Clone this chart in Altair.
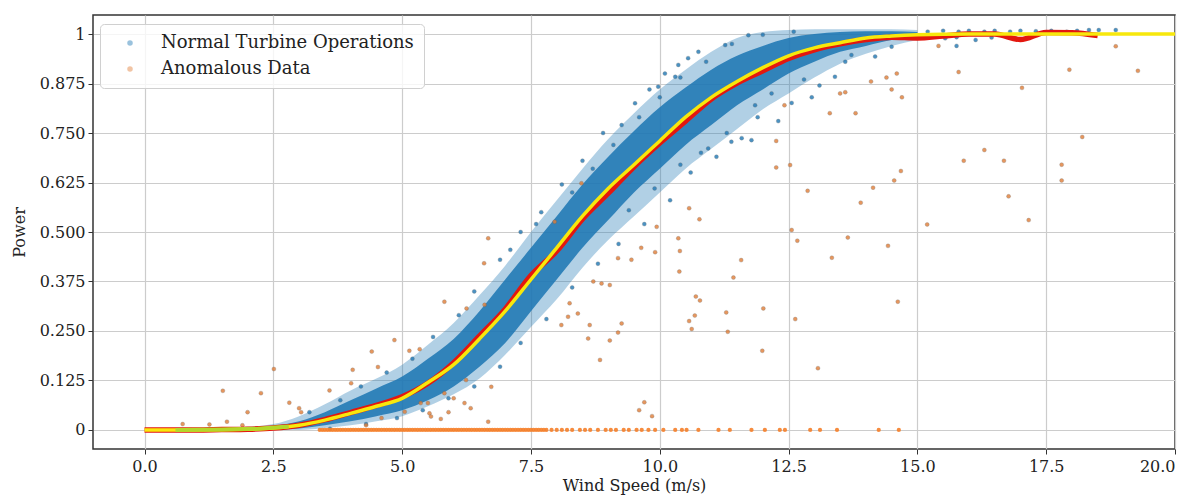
import altair as alt
import pandas as pd

# ---------------- data ----------------
# dense cloud of normal operations: outer and core envelope
band_v = [1.5, 2.0, 2.5, 3.0, 3.5, 4.0, 4.5, 5.0, 5.5, 6.0, 6.5, 7.0, 7.5, 8.0, 8.5,
          9.0, 9.5, 10.0, 10.5, 11.0, 11.5, 12.0, 12.5, 13.0, 13.5, 14.0, 14.5, 15.0]
outer_lo = [0.0, 0.0, 0.0, 0.0, 0.005, 0.012, 0.022, 0.035, 0.06, 0.09, 0.13, 0.19, 0.26, 0.33, 0.41,
            0.48, 0.54, 0.60, 0.66, 0.71, 0.76, 0.81, 0.85, 0.89, 0.925, 0.95, 0.97, 0.985]
outer_hi = [0.004, 0.008, 0.015, 0.035, 0.065, 0.10, 0.13, 0.165, 0.215, 0.27, 0.34, 0.415, 0.50, 0.58, 0.66,
            0.735, 0.80, 0.86, 0.91, 0.955, 0.99, 1.005, 1.01, 1.012, 1.012, 1.012, 1.012, 1.01]
core_lo = [0.0, 0.0, 0.001, 0.004, 0.012, 0.022, 0.035, 0.05, 0.075, 0.11, 0.16, 0.22, 0.30, 0.38, 0.46,
           0.53, 0.60, 0.66, 0.72, 0.77, 0.82, 0.86, 0.90, 0.93, 0.955, 0.97, 0.985, 0.99]
core_hi = [0.002, 0.004, 0.01, 0.022, 0.045, 0.075, 0.105, 0.135, 0.18, 0.23, 0.30, 0.38, 0.46, 0.54, 0.62,
           0.69, 0.755, 0.815, 0.865, 0.91, 0.945, 0.97, 0.99, 1.0, 1.005, 1.007, 1.007, 1.005]

# scattered normal points at the fringes of the cloud
normal_v = [3.2, 3.8, 4.2, 4.7, 5.2, 5.6, 6.1, 6.4, 6.9, 7.3, 7.7, 8.1, 8.5, 8.9, 9.26, 9.52, 9.97, 10.3,
            10.36, 10.55, 10.75, 11.27, 11.72, 9.8, 10.1,
            3.6, 4.3, 4.9, 5.4, 5.9, 6.4, 6.9, 7.3, 7.8, 8.3, 8.8, 9.2, 9.7, 10.2, 10.94, 11.39, 11.59, 11.78,
            11.85, 12.17, 12.56, 12.95, 13.4, 13.72, 14.18, 14.5, 10.6, 11.1, 12.3, 13.1,
            15.2, 15.54, 15.76, 15.5, 15.8, 16.0, 16.13, 16.3, 16.44, 16.5, 16.8, 17.0, 17.3, 17.6, 17.9,
            18.1, 18.33, 18.52, 18.85, 15.76,
            7.1, 7.6, 8.3, 8.7, 9.1, 9.6, 10.0, 10.4, 10.9, 11.4, 12.0, 12.6,
            9.4, 9.9, 10.4, 10.8, 11.3, 11.9, 12.8, 13.6]
normal_p = [0.045, 0.075, 0.11, 0.145, 0.18, 0.235, 0.29, 0.35, 0.43, 0.50, 0.55, 0.62, 0.68, 0.75, 0.77,
            0.825, 0.867, 0.892, 0.922, 0.939, 0.955, 0.972, 0.997, 0.86, 0.90,
            0.003, 0.015, 0.03, 0.05, 0.08, 0.11, 0.16, 0.22, 0.28, 0.36, 0.42, 0.47, 0.52, 0.58, 0.711, 0.728,
            0.737, 0.732, 0.82, 0.85, 0.826, 0.84, 0.892, 0.947, 0.943, 0.968, 0.65, 0.69, 0.78, 0.87,
            1.006, 0.989, 0.992, 1.008, 1.006, 1.008, 0.985, 1.006, 0.991, 1.008, 1.006, 1.008, 1.007, 1.008,
            1.006, 1.008, 1.01, 1.01, 1.01, 0.97,
            0.455, 0.52, 0.6, 0.66, 0.72, 0.79, 0.84, 0.89, 0.93, 0.975, 0.998, 1.006,
            0.555, 0.61, 0.67, 0.70, 0.75, 0.79, 0.885, 0.93]

# anomalous data: scattered points
anom_v = [0.74, 1.26, 1.52, 1.6, 2.0, 2.26, 2.51, 2.81, 3.0, 3.04, 3.59, 4.01, 4.04, 4.41, 4.53, 4.85, 5.14,
          5.34, 5.36, 5.5, 5.53, 5.56, 5.75, 5.82, 5.82, 6.21, 6.24, 6.25, 6.33, 6.59, 6.6, 6.67, 6.67, 6.73,
          5.05, 1.9, 4.3, 4.6, 5.9, 6.0,
          7.96, 8.09, 8.22, 8.25, 8.41, 8.48, 8.61, 8.64, 8.71, 8.87, 9.03, 9.03, 9.19, 9.19, 9.26, 9.45, 9.6,
          9.7, 9.85, 8.84, 9.64,
          9.91, 9.94, 10.36, 10.39, 10.38, 10.57, 10.77, 10.57, 10.62, 10.68, 10.7, 10.78, 11.29, 11.32, 11.43,
          11.58, 11.99, 12.01, 12.26, 12.53, 12.56, 12.63, 12.67, 12.87, 13.07, 13.34, 13.65, 13.9, 14.14,
          14.43, 14.62, 14.68, 15.19,
          12.42, 12.26, 13.3, 13.5, 13.6, 13.8, 14.1, 14.4, 14.5, 14.6, 14.7, 14.55, 15.8, 15.9, 16.3, 16.68,
          16.77, 17.03, 17.16, 17.95, 17.8, 17.8, 18.2, 19.28, 15.41, 18.85]
anom_p = [0.015, 0.014, 0.099, 0.021, 0.045, 0.093, 0.154, 0.069, 0.055, 0.045, 0.10, 0.118, 0.152, 0.198,
          0.159, 0.227, 0.20, 0.204, 0.068, 0.068, 0.042, 0.034, 0.028, 0.093, 0.324, 0.068, 0.126, 0.307,
          0.055, 0.421, 0.316, 0.484, 0.021, 0.109, 0.046, 0.012, 0.012, 0.03, 0.045, 0.08,
          0.526, 0.265, 0.286, 0.32, 0.294, 0.623, 0.231, 0.265, 0.375, 0.37, 0.366, 0.226, 0.434, 0.246,
          0.269, 0.43, 0.05, 0.07, 0.035, 0.177, 0.46,
          0.449, 0.513, 0.484, 0.452, 0.40, 0.56, 0.532, 0.275, 0.255, 0.289, 0.337, 0.327, 0.297, 0.248,
          0.385, 0.429, 0.20, 0.307, 0.663, 0.669, 0.505, 0.28, 0.478, 0.604, 0.156, 0.435, 0.486, 0.574,
          0.612, 0.465, 0.324, 0.654, 0.519,
          0.82, 0.73, 0.80, 0.85, 0.853, 0.80, 0.88, 0.89, 0.86, 0.90, 0.84, 0.63, 0.904, 0.68, 0.707, 0.68,
          0.59, 0.864, 0.53, 0.91, 0.67, 0.63, 0.74, 0.907, 0.97, 0.969]

# anomalous data: zero-power records
zero_v = [3.40, 3.45, 3.50, 3.55, 3.60, 3.65, 3.70, 3.75, 3.80, 3.85, 3.90, 3.95, 4.00, 4.05, 4.10, 4.15,
          4.20, 4.25, 4.30, 4.35, 4.40, 4.45, 4.50, 4.55, 4.60, 4.65, 4.70, 4.75, 4.80, 4.85, 4.90, 4.95,
          5.00, 5.05, 5.10, 5.15, 5.20, 5.25, 5.30, 5.35, 5.40, 5.45, 5.50, 5.55, 5.60, 5.65, 5.70, 5.75,
          5.80, 5.85, 5.90, 5.95, 6.00, 6.05, 6.10, 6.15, 6.20, 6.25, 6.30, 6.35, 6.40, 6.45, 6.50, 6.55,
          6.60, 6.65, 6.70, 6.75, 6.80, 6.85, 6.90, 6.95, 7.00, 7.05, 7.10, 7.15, 7.20, 7.25, 7.30, 7.35,
          7.40, 7.45, 7.50, 7.55, 7.60, 7.65, 7.70, 7.75, 7.80, 7.90, 8.00, 8.10, 8.20, 8.30, 8.45, 8.55,
          8.65, 8.80, 8.95, 9.05, 9.15, 9.30, 9.40, 9.55, 9.65,
          9.78, 9.91, 10.07, 10.3, 10.43, 10.52, 10.75, 11.14, 11.36, 11.78, 12.04, 12.33, 12.43,
          12.92, 13.11, 13.44, 14.25, 14.64]

# power curves
red_v = [0.0, 0.5, 1.0, 1.5, 2.0, 2.5, 3.0, 3.5, 4.0, 4.5, 5.0, 5.5, 6.0, 6.5, 7.0, 7.5, 8.0, 8.5, 9.0,
         9.5, 10.0, 10.5, 11.0, 11.5, 12.0, 12.5, 13.0, 13.5, 14.0, 14.5, 15.0, 15.5, 16.0, 16.5, 17.0,
         17.5, 18.0, 18.5]
red_p = [0.0, 0.0, 0.0, 0.001, 0.002, 0.005, 0.012, 0.026, 0.044, 0.062, 0.084, 0.118, 0.17, 0.237, 0.305,
         0.39, 0.452, 0.533, 0.598, 0.665, 0.725, 0.78, 0.836, 0.876, 0.907, 0.938, 0.96, 0.975, 0.986, 0.992,
         0.99, 0.995, 1.0, 1.0, 0.986, 1.004, 1.003, 0.996]
fit_v = [0.0, 1.0, 2.0, 2.5, 3.0, 3.5, 4.0, 4.5, 5.0, 5.5, 6.0, 6.5, 7.0, 7.5, 8.0, 8.5, 9.0, 9.5, 10.0,
         10.5, 11.0, 11.5, 12.0, 12.5, 13.0, 13.5, 14.0, 14.5, 15.0, 16.0, 20.0]
fit_p = [0.0, 0.0, 0.002, 0.005, 0.012, 0.025, 0.042, 0.06, 0.08, 0.12, 0.165, 0.23, 0.30, 0.38, 0.46, 0.54,
         0.61, 0.67, 0.73, 0.79, 0.84, 0.88, 0.915, 0.945, 0.965, 0.978, 0.99, 0.995, 0.998, 1.0, 1.0]
green_v = [0.6, 1.5, 2.2, 2.8]
green_p = [0.0, 0.001, 0.003, 0.009]

# ---------------- tables ----------------
band = pd.DataFrame({"v": band_v, "olo": outer_lo, "ohi": outer_hi, "clo": core_lo, "chi": core_hi})
NORMAL = "Normal Turbine Operations"
ANOM = "Anomalous Data"
pts = pd.concat([
    pd.DataFrame({"v": normal_v, "p": normal_p, "series": NORMAL}),
    pd.DataFrame({"v": anom_v, "p": anom_p, "series": ANOM}),
], ignore_index=True)
zeros = pd.DataFrame({"v": zero_v, "p": [0.0] * len(zero_v)})
red = pd.DataFrame({"v": red_v, "p": red_p})
fit = pd.DataFrame({"v": fit_v, "p": fit_p})
green = pd.DataFrame({"v": green_v, "p": green_p})

xs = alt.Scale(domain=[-1.0, 20.0], nice=False, zero=False)
ys = alt.Scale(domain=[-0.048, 1.048], nice=False, zero=False)

xaxis = alt.Axis(title="Wind Speed (m/s)", values=[0, 2.5, 5, 7.5, 10, 12.5, 15, 17.5, 20],
                 format=".1f", labelPadding=4, titlePadding=3)
yaxis = alt.Axis(title="Power", values=[0, 0.125, 0.25, 0.375, 0.5, 0.625, 0.75, 0.875, 1],
                 labelExpr="datum.value == 0 ? '0' : (datum.value == 1 ? '1' : format(datum.value, '.3f'))",
                 labelPadding=3, titlePadding=12)

X = alt.X("v:Q", scale=xs, axis=xaxis)
Y = alt.Y("p:Q", scale=ys, axis=yaxis)

outer = alt.Chart(band).mark_area(color="#1f77b4", opacity=0.35, interpolate="monotone").encode(
    x=X, y=alt.Y("olo:Q", scale=ys, axis=yaxis), y2="ohi:Q")
core = alt.Chart(band).mark_area(color="#1f77b4", opacity=0.88, interpolate="monotone").encode(
    x=X, y=alt.Y("clo:Q", scale=ys, axis=yaxis), y2="chi:Q")

points = alt.Chart(pts).mark_circle(size=16, opacity=0.8, stroke="#5a5a5a", strokeWidth=0.6,
                                    strokeOpacity=0.5).encode(
    x=X, y=Y,
    color=alt.Color("series:N",
                    scale=alt.Scale(domain=[NORMAL, ANOM], range=["#1f77b4", "#e07d36"]),
                    legend=alt.Legend(title=None, orient="none", legendX=7, legendY=9,
                                      symbolType="circle", symbolSize=30, symbolOpacity=0.45,
                                      symbolStrokeWidth=0,
                                      labelFont="DejaVu Serif", labelFontSize=18, labelColor="#222",
                                      labelLimit=0,
                                      padding=10, symbolOffset=11, labelOffset=22, rowPadding=8,
                                      strokeColor="#d0d0d0", fillColor="rgba(255,255,255,0.8)",
                                      cornerRadius=4)),
)
zero_pts = alt.Chart(zeros).mark_circle(size=18, opacity=0.9, color="#f5802a").encode(x=X, y=Y)

red_line = alt.Chart(red).mark_line(color="#e3170f", strokeWidth=5.5, interpolate="monotone").encode(x=X, y=Y)
fit_line = alt.Chart(fit).mark_line(color="#f7e80c", strokeWidth=3.5, interpolate="monotone").encode(x=X, y=Y)
green_line = alt.Chart(green).mark_line(color="#b2d82a", strokeWidth=4).encode(x=X, y=Y)

chart = alt.layer(outer, core, points, zero_pts, red_line, fit_line, green_line).properties(
    width=1082, height=434,
    autosize=alt.AutoSizeParams(type="none"),
    padding={"left": 85, "top": 7, "right": 18, "bottom": 49},
).configure_axis(
    labelFont="DejaVu Serif", titleFont="DejaVu Serif",
    labelFontSize=16, titleFontSize=16, titleFontWeight="normal",
    labelColor="#222", titleColor="#222",
    gridColor="#cccccc", gridWidth=1.2,
    tickColor="#333", tickSize=5, domain=False,
).configure_view(stroke="#333", strokeWidth=1.5)

chart.save("out.html", embed_options={"renderer": "svg", "actions": False})
